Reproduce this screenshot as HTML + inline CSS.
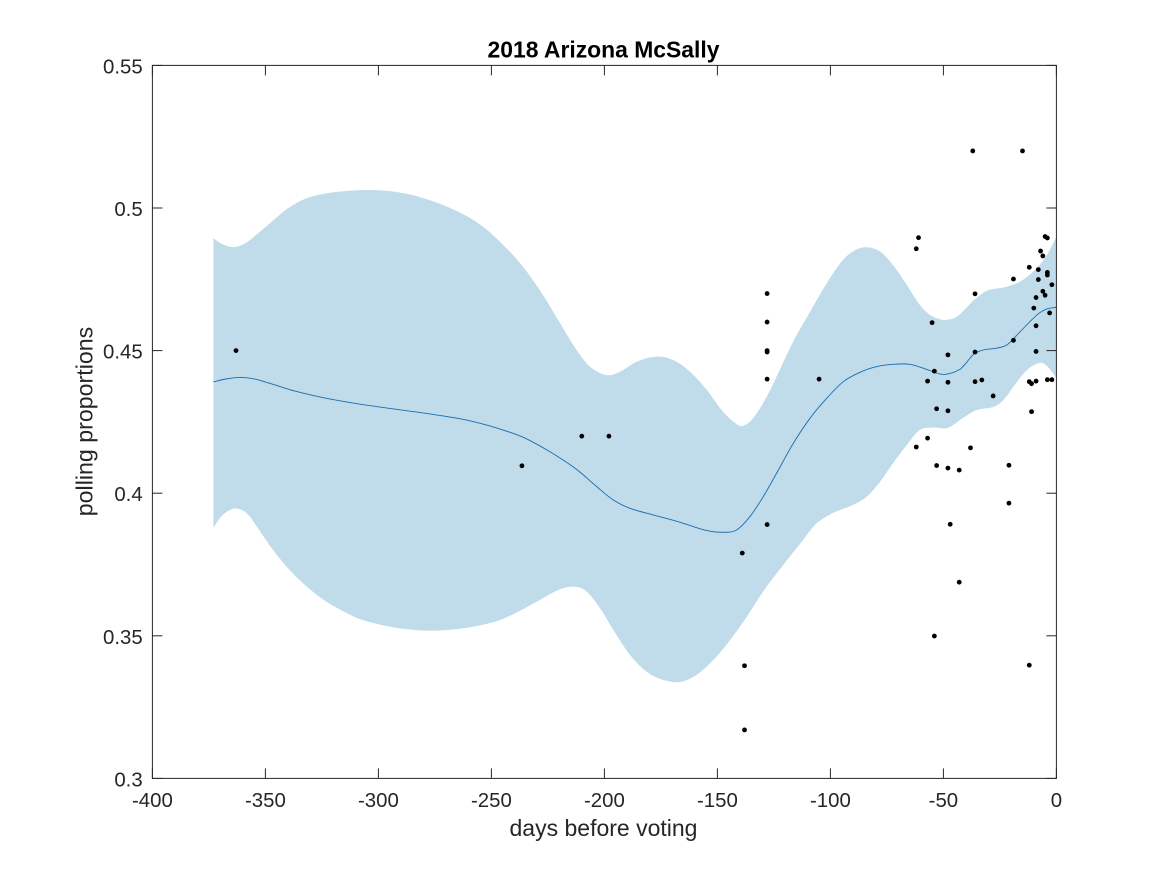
<!DOCTYPE html>
<html>
<head>
<meta charset="utf-8">
<title>2018 Arizona McSally</title>
<style>
html,body{margin:0;padding:0;background:#fff;}
svg{display:block;}
text{font-family:"Liberation Sans",Arial,sans-serif;fill:#262626;}
</style>
</head>
<body>
<svg id="chart" width="1167" height="875" viewBox="0 0 1167 875" xmlns="http://www.w3.org/2000/svg">
  <rect x="0" y="0" width="1167" height="875" fill="#ffffff"/>
  <g id="band-layer"></g>
  <g id="line-layer"></g>
  <g id="axes-layer"></g>
  <g id="point-layer"></g>
  <text x="603.5" y="57.5" font-size="22.9" font-weight="bold" text-anchor="middle" style="fill:#000">2018 Arizona McSally</text>
  <text x="603.5" y="836" font-size="23" text-anchor="middle">days before voting</text>
  <text transform="translate(92.5 421.5) rotate(-90)" font-size="23.2" text-anchor="middle">polling proportions</text>
</svg>
<script>
const xTicks = [-400, -350, -300, -250, -200, -150, -100, -50, 0];
const yTicks = [0.3, 0.35, 0.4, 0.45, 0.5, 0.55];
const xTickLabels = ['-400', '-350', '-300', '-250', '-200', '-150', '-100', '-50', '0'];
const yTickLabels = ['0.3', '0.35', '0.4', '0.45', '0.5', '0.55'];

const upperDays = [-373, -369.3, -364.2, -359, -353.3, -347.2, -340, -332.5, -325.1, -317.9, -305.9, -295.8, -285.3, -273.6, -261.7, -252.8, -244, -236, -227.2, -219.6, -212.3, -206.4, -199, -193.1, -185.7, -176.9, -169.6, -162.1, -154.7, -147.5, -141.5, -138.7, -134.2, -128.2, -123.8, -116.5, -109, -101.6, -94.4, -88.4, -83.4, -78, -72.3, -66.2, -60.4, -55.9, -51.5, -49.3, -44, -36.5, -30.7, -21.9, -14.8, -8.6, -4.2, 0];
const upperBand = [0.4894, 0.4874, 0.4863, 0.4876, 0.4911, 0.4952, 0.4999, 0.5032, 0.5048, 0.5057, 0.5063, 0.5060, 0.5046, 0.5017, 0.4975, 0.4929, 0.4864, 0.4794, 0.4695, 0.4596, 0.4502, 0.4444, 0.4414, 0.4426, 0.4461, 0.4479, 0.4467, 0.4426, 0.4362, 0.4286, 0.4242, 0.4236, 0.4263, 0.4338, 0.4409, 0.4531, 0.4636, 0.4736, 0.4818, 0.4855, 0.4862, 0.4847, 0.4800, 0.4730, 0.4660, 0.4625, 0.4610, 0.4607, 0.4619, 0.4677, 0.4710, 0.4724, 0.4748, 0.4790, 0.4835, 0.4899];

const lowerDays = [-373, -369.3, -365.7, -362.7, -358.3, -353.3, -347.2, -340, -332.5, -325.1, -317.9, -309, -298.5, -288.2, -276.4, -264.8, -254.3, -246.2, -237.3, -228.5, -219.6, -213, -207.8, -201.9, -196, -188.7, -181.3, -173.9, -166.5, -159.2, -151.8, -144.4, -137, -129.8, -122.3, -112.1, -106.1, -98.8, -90, -83.9, -78, -72.3, -66.2, -60.4, -54.6, -48, -41.3, -35.1, -28, -25, -21.9, -19.2, -13, -7.3, -4.2, 0];
const lowerBand = [0.3880, 0.3920, 0.3941, 0.3946, 0.3930, 0.3877, 0.3807, 0.3737, 0.3678, 0.3631, 0.3596, 0.3561, 0.3538, 0.3524, 0.3518, 0.3524, 0.3538, 0.3555, 0.3588, 0.3626, 0.3663, 0.3672, 0.3655, 0.3596, 0.3520, 0.3433, 0.3374, 0.3345, 0.3338, 0.3363, 0.3415, 0.3485, 0.3567, 0.3655, 0.3734, 0.3836, 0.3894, 0.3931, 0.3959, 0.3988, 0.4040, 0.4105, 0.4169, 0.4222, 0.4230, 0.4229, 0.4264, 0.4292, 0.4302, 0.4315, 0.4341, 0.4372, 0.4432, 0.4457, 0.4446, 0.4404];

const meanDays = [-373, -367.9, -361.2, -354.6, -347.2, -336.9, -325.1, -313.5, -298.5, -280.8, -263.1, -255, -246.2, -235.9, -225.5, -216.7, -210.8, -203.4, -196, -188.7, -178.4, -166.5, -154.7, -147.4, -141.5, -135.6, -129.7, -123.8, -116.4, -109, -101.6, -94.3, -86.9, -79.5, -72.2, -64.8, -57.4, -51.5, -48, -42.7, -39.6, -36.5, -32.5, -26.3, -21.9, -16.1, -8.6, -4.2, 0];
const meanLine = [0.4390, 0.4400, 0.4406, 0.4400, 0.4383, 0.4358, 0.4336, 0.4319, 0.4301, 0.4282, 0.4260, 0.4245, 0.4225, 0.4196, 0.4152, 0.4108, 0.4074, 0.4023, 0.3976, 0.3947, 0.3924, 0.3898, 0.3869, 0.3863, 0.3871, 0.3918, 0.3988, 0.4070, 0.4175, 0.4263, 0.4333, 0.4391, 0.4424, 0.4444, 0.4452, 0.4452, 0.4434, 0.4418, 0.4418, 0.4434, 0.4460, 0.4488, 0.4502, 0.4509, 0.4520, 0.4566, 0.4625, 0.4646, 0.4652];

const pollDays = [-363, -236.5, -210, -198, -139, -138, -138, -128, -128, -128, -128, -128, -128, -105, -37, -15, -61, -62, -5, -4, -7, -6, -12, -8, -4, -4, -8, -19, -2, -6, -5, -36, -9, -10, -3, -55, -9, -19, -48, -36, -9, -54, -57, -48, -36, -33, -12, -11, -9, -4, -2, -28, -53, -48, -11, -57, -62, -38, -53, -48, -43, -21, -21, -47, -43, -54, -12];
const pollValues = [0.45, 0.4096, 0.42, 0.42, 0.379, 0.3395, 0.317, 0.47, 0.46, 0.45, 0.4495, 0.44, 0.389, 0.44, 0.52, 0.52, 0.4896, 0.4857, 0.49, 0.4895, 0.4849, 0.4832, 0.4792, 0.4784, 0.4774, 0.4765, 0.4749, 0.4751, 0.4731, 0.4708, 0.4694, 0.4699, 0.4686, 0.4649, 0.4632, 0.4598, 0.4587, 0.4536, 0.4485, 0.4495, 0.4497, 0.4428, 0.4393, 0.4389, 0.4391, 0.4397, 0.4391, 0.4384, 0.4393, 0.4398, 0.4398, 0.4341, 0.4296, 0.4289, 0.4286, 0.4193, 0.4162, 0.4159, 0.4097, 0.4088, 0.4081, 0.4098, 0.3965, 0.3891, 0.3688, 0.3499, 0.3397];

const SVG_NS = 'http://www.w3.org/2000/svg';
const plotLeft = 152.4, plotRight = 1056.4, plotTop = 65.4, plotBottom = 778.4;
const xMin = -400, xMax = 0, yMin = 0.3, yMax = 0.55;

function xScale(d) { return plotLeft + (d - xMin) / (xMax - xMin) * (plotRight - plotLeft); }
function yScale(v) { return plotBottom - (v - yMin) / (yMax - yMin) * (plotBottom - plotTop); }

function smoothSegments(pts) {
  const n = pts.length;
  const slope = pts.map(function (p, i) {
    const a = pts[Math.max(i - 1, 0)], b = pts[Math.min(i + 1, n - 1)];
    return (b[1] - a[1]) / (b[0] - a[0]);
  });
  let s = '';
  for (let i = 0; i < n - 1; i++) {
    const p1 = pts[i], p2 = pts[i + 1], dx = (p2[0] - p1[0]) / 3;
    s += 'C' + (p1[0] + dx).toFixed(2) + ' ' + (p1[1] + slope[i] * dx).toFixed(2) + ' ' + (p2[0] - dx).toFixed(2) + ' ' + (p2[1] - slope[i + 1] * dx).toFixed(2) + ' ' + p2[0].toFixed(2) + ' ' + p2[1].toFixed(2);
  }
  return s;
}

function toPoints(days, vals) {
  return days.map(function (d, i) { return [xScale(d), yScale(vals[i])]; });
}

const upperPts = toPoints(upperDays, upperBand);
const lowerPts = toPoints(lowerDays, lowerBand).reverse();
const band = document.createElementNS(SVG_NS, 'path');


band.setAttribute('d', 'M' + upperPts[0][0] + ' ' + upperPts[0][1] + smoothSegments(upperPts) + 'L' + lowerPts[0][0] + ' ' + lowerPts[0][1] + smoothSegments(lowerPts) + 'Z');
band.setAttribute('fill', '#c0dceb');
document.getElementById('band-layer').appendChild(band);

const meanPts = toPoints(meanDays, meanLine);
const trend = document.createElementNS(SVG_NS, 'path');


trend.setAttribute('d', 'M' + meanPts[0][0] + ' ' + meanPts[0][1] + smoothSegments(meanPts));
trend.setAttribute('fill', 'none');
trend.setAttribute('stroke', '#1c6cab');
trend.setAttribute('stroke-width', '0.9');
document.getElementById('line-layer').appendChild(trend);

const axes = document.getElementById('axes-layer');
const box = document.createElementNS(SVG_NS, 'rect');


box.setAttribute('x', plotLeft);
box.setAttribute('y', plotTop);
box.setAttribute('width', plotRight - plotLeft);
box.setAttribute('height', plotBottom - plotTop);
box.setAttribute('fill', 'none');
box.setAttribute('stroke', '#262626');
box.setAttribute('stroke-width', '1');
axes.appendChild(box);

function addTick(x1, y1, x2, y2, name) {
  const t = document.createElementNS(SVG_NS, 'line');
  
  
  t.setAttribute('x1', x1);
  t.setAttribute('y1', y1);
  t.setAttribute('x2', x2);
  t.setAttribute('y2', y2);
  t.setAttribute('stroke', '#262626');
  t.setAttribute('stroke-width', '1');
  axes.appendChild(t);
}

function addLabel(x, y, anchor, str, name) {
  const l = document.createElementNS(SVG_NS, 'text');
  
  
  l.setAttribute('x', x);
  l.setAttribute('y', y);
  l.setAttribute('font-size', '20.4');
  l.setAttribute('text-anchor', anchor);
  l.textContent = str;
  axes.appendChild(l);
}

xTicks.forEach(function (d, i) {
  const x = xScale(d);
  addTick(x, plotBottom, x, plotBottom - 10, 'x-tick-bottom');
  addTick(x, plotTop, x, plotTop + 10, 'x-tick-top');
  addLabel(x, 807, 'middle', xTickLabels[i], 'x-tick-label');
});

yTicks.forEach(function (v, i) {
  const y = yScale(v);
  addTick(plotLeft, y, plotLeft + 10, y, 'y-tick-left');
  addTick(plotRight, y, plotRight - 10, y, 'y-tick-right');
  addLabel(142.7, y + 8, 'end', yTickLabels[i], 'y-tick-label');
});

const pointLayer = document.getElementById('point-layer');
pollDays.forEach(function (d, i) {
  const c = document.createElementNS(SVG_NS, 'circle');
  
  
  c.setAttribute('cx', xScale(d));
  c.setAttribute('cy', yScale(pollValues[i]));
  c.setAttribute('r', '2.4');
  c.setAttribute('fill', '#000000');
  pointLayer.appendChild(c);
});
</script>
</body>
</html>
